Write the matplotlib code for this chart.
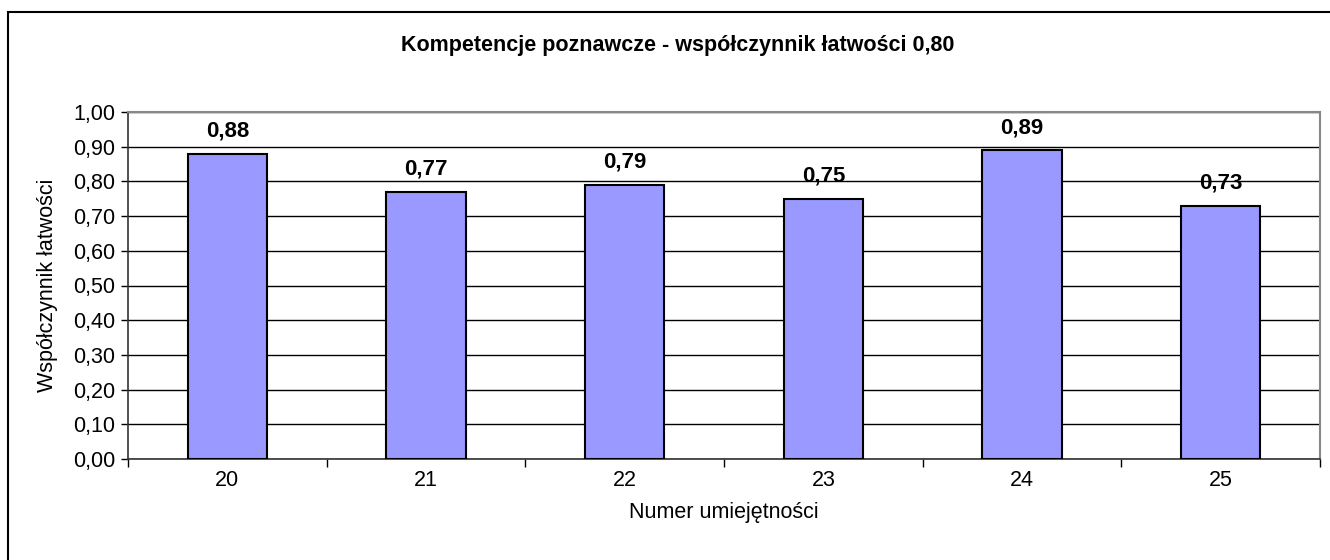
import numpy as np
import matplotlib.pyplot as plt
from matplotlib.patches import Rectangle
from matplotlib.ticker import FixedLocator, FuncFormatter

plt.rcParams['font.family'] = ['Liberation Sans', 'DejaVu Sans']

umiejetnosci = ["20", "21", "22", "23", "24", "25"]
wspolczynnik = [0.88, 0.77, 0.79, 0.75, 0.89, 0.73]

fig = plt.figure(figsize=(13.3, 5.6), dpi=100)
W, H = 1330, 560
ax = fig.add_axes([128 / W, 1 - 459 / H, (1320 - 128) / W, (459 - 112) / H])

# ramka wykresu
fig.patches.append(Rectangle((8 / W, -0.1), 1.2, 1 - 12 / H + 0.1,
                             transform=fig.transFigure, fill=False,
                             edgecolor='black', linewidth=1.5, zorder=0))

x = np.arange(len(umiejetnosci))
barras = ax.bar(x, wspolczynnik, width=0.4, color='#9999FF',
                edgecolor='black', linewidth=1.5, zorder=3)

for b, v in zip(barras, wspolczynnik):
    ax.text(b.get_x() + b.get_width() / 2, v + 0.035, f"{v:.2f}".replace('.', ','),
            ha='center', va='bottom', fontsize=16, fontweight='bold', zorder=4)

ax.set_xlim(-0.5, len(umiejetnosci) - 0.5)
ax.set_ylim(0, 1.0)
ax.set_yticks(np.arange(0, 1.01, 0.1))
ax.yaxis.set_major_formatter(FuncFormatter(lambda v, p: f"{v:.2f}".replace('.', ',')))
ax.set_xticks(x)
ax.set_xticklabels(umiejetnosci)
ax.xaxis.set_minor_locator(FixedLocator(np.arange(-0.5, len(umiejetnosci), 1.0)))
ax.tick_params(axis='x', which='major', length=0, pad=8, labelsize=15.5)
ax.tick_params(axis='x', which='minor', length=6, width=1, color='black')
ax.tick_params(axis='y', length=5, width=1, pad=4, labelsize=15.5)

ax.grid(axis='y', color='black', linewidth=1, zorder=1)
ax.set_axisbelow(True)

for s in ['top', 'right']:
    ax.spines[s].set_color('#888888')
    ax.spines[s].set_linewidth(1.5)
for s in ['left', 'bottom']:
    ax.spines[s].set_color('#333333')
    ax.spines[s].set_linewidth(1.2)

ax.set_xlabel("Numer umiejętności", fontsize=15.5, labelpad=8)
ax.set_ylabel("Współczynnik łatwości", fontsize=15.5, labelpad=11)
fig.text(678 / W, 1 - 45 / H, "Kompetencje poznawcze - współczynnik łatwości 0,80",
         ha='center', va='center', fontsize=15.5, fontweight='bold')

fig.savefig("out.png", dpi=100)
